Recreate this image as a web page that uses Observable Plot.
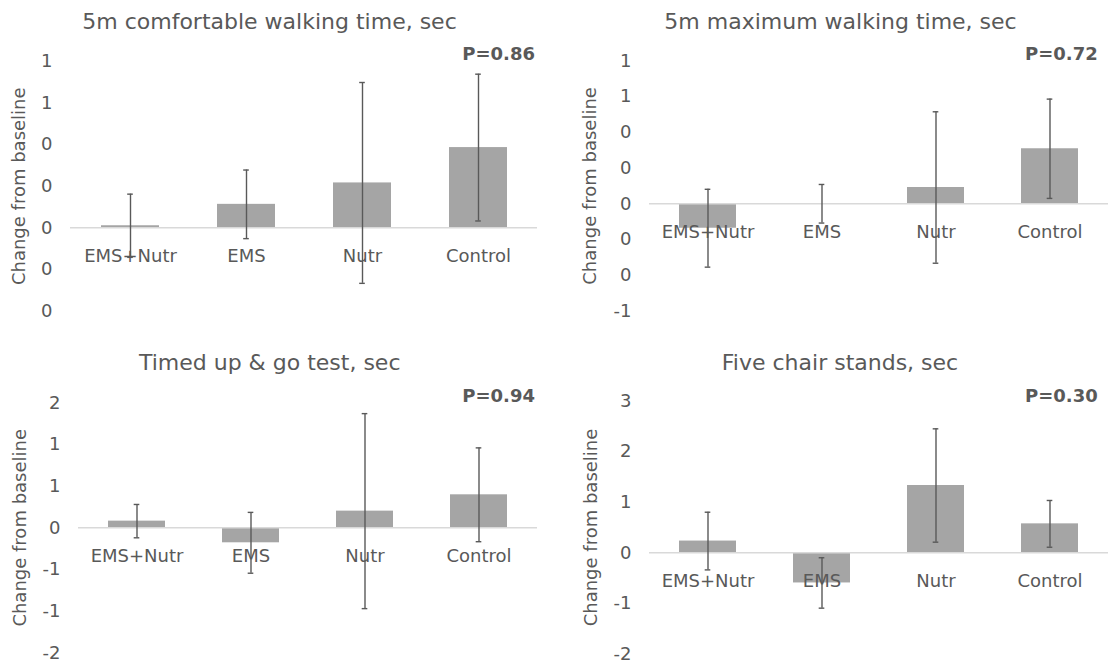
<!DOCTYPE html>
<html>
<head>
<meta charset="utf-8">
<script src="https://cdn.jsdelivr.net/npm/d3@7"></script>
<script src="https://cdn.jsdelivr.net/npm/@observablehq/plot@0.6"></script>
<style>
  html, body { margin: 0; padding: 0; background: #ffffff; }
  #chart { position: relative; width: 1112px; height: 667px; background: #ffffff; overflow: hidden;
           font-family: "DejaVu Sans", sans-serif; color: #595959; }
  #chart svg { position: absolute; }
  .ttl { position: absolute; font-size: 22px; line-height: 22px; white-space: nowrap; transform: translateX(-50%); color: #595959; }
  .pv { position: absolute; font-size: 18px; line-height: 18px; font-weight: bold; white-space: nowrap; color: #595959; }
</style>
</head>
<body>
<div id="chart"></div>
<script>
// ---- data ----
const categories = ["EMS+Nutr", "EMS", "Nutr", "Control"];
const yTitle = "Change from baseline";

const titles = ["5m comfortable walking time, sec", "5m maximum walking time, sec", "Timed up & go test, sec", "Five chair stands, sec"];
const pLabels = ["P=0.86", "P=0.72", "P=0.94", "P=0.30"];

const comfValues = [0.01, 0.113, 0.216, 0.386];
const comfErrors = [0.152, 0.165, 0.483, 0.353];
const comfTicks = [0.8, 0.6, 0.4, 0.2, 0, -0.2, -0.4];
const comfTickLabels = ["1", "1", "0", "0", "0", "0", "0"];

const maxValues = [-0.137, 0.0, 0.091, 0.308];
const maxErrors = [0.218, 0.108, 0.424, 0.278];
const maxTicks = [0.8, 0.6, 0.4, 0.2, 0, -0.2, -0.4, -0.6];
const maxTickLabels = ["1", "1", "0", "0", "0", "0", "0", "-1"];

const tugValues = [0.08, -0.18, 0.2, 0.396];
const tugErrors = [0.2, 0.365, 1.17, 0.563];
const tugTicks = [1.5, 1, 0.5, 0, -0.5, -1, -1.5];
const tugTickLabels = ["2", "1", "1", "0", "-1", "-1", "-2"];

const chairValues = [0.232, -0.596, 1.33, 0.572];
const chairErrors = [0.57, 0.498, 1.12, 0.462];
const chairTicks = [3, 2, 1, 0, -1, -2];
const chairTickLabels = ["3", "2", "1", "0", "-1", "-2"];

// ---- drawing ----
const GRAY_BAR = "#a5a5a5", TEXT = "#595959", ERR = "#595959", ZERO = "#d9d9d9";
const W = 556, H = 333;

function panel(values, errors, ticks, tickLabels, m, titleX) {
  const data = categories.map((c, i) => ({cat: c, v: values[i], lo: values[i] - errors[i], hi: values[i] + errors[i]}));
  const step = (W - m.l - m.r) / categories.length;
  const bw = step * 0.5;
  const capInset = (bw - 6) / 2;
  const domain = [d3.min(ticks), d3.max(ticks)];
  return Plot.plot({
    width: W, height: H,
    marginLeft: m.l, marginRight: m.r, marginTop: m.t, marginBottom: m.b,
    style: {fontFamily: "'DejaVu Sans', sans-serif", fontSize: "18px", color: TEXT, background: "transparent", overflow: "visible"},
    x: {domain: categories, paddingInner: 0.5, paddingOuter: 0.25, axis: null},
    y: {domain, ticks, tickFormat: d => tickLabels[ticks.indexOf(d)], tickSize: 0, tickPadding: 18, label: null},
    marks: [
      Plot.barY(data, {x: "cat", y: "v", fill: GRAY_BAR}),
      Plot.ruleY([0], {stroke: ZERO, strokeWidth: 1.5}),
      Plot.text(categories, {x: d => d, y: () => 0, dy: 28, fill: TEXT, fontSize: 18}),
      Plot.ruleX(data, {x: "cat", y1: "lo", y2: "hi", stroke: ERR, strokeWidth: 1.4}),
      Plot.tickY(data, {x: "cat", y: "lo", stroke: ERR, strokeWidth: 1.4, insetLeft: capInset, insetRight: capInset}),
      Plot.tickY(data, {x: "cat", y: "hi", stroke: ERR, strokeWidth: 1.4, insetLeft: capInset, insetRight: capInset}),
      Plot.text([yTitle], {frameAnchor: "left", textAnchor: "middle", lineAnchor: "middle", rotate: -90, dx: titleX - m.l, fill: TEXT, fontSize: 18})
    ]
  });
}

const chart = document.getElementById("chart");
const specs = [
  {vals: comfValues, errs: comfErrors, ticks: comfTicks, labels: comfTickLabels, m: {l: 70, r: 19, t: 61, b: 22.5}, tx: 19, left: 0, top: 0, tcx: 269.5, ttop: 10.7, pright: 577, ptop: 45.3},
  {vals: maxValues, errs: maxErrors, ticks: maxTicks, labels: maxTickLabels, m: {l: 93, r: 4, t: 60.4, b: 22.6}, tx: 34, left: 556, top: 0, tcx: 840.5, ttop: 10.7, pright: 14.3, ptop: 45.3},
  {vals: tugValues, errs: tugErrors, ticks: tugTicks, labels: tugTickLabels, m: {l: 78, r: 19, t: 68.3, b: 14.7}, tx: 20, left: 0, top: 334, tcx: 269.7, ttop: 352, pright: 577, ptop: 386.8},
  {vals: chairValues, errs: chairErrors, ticks: chairTicks, labels: chairTickLabels, m: {l: 93, r: 4, t: 66.5, b: 13.5}, tx: 35, left: 556, top: 334, tcx: 840, ttop: 352, pright: 14.3, ptop: 386.8}
];

specs.forEach((s, i) => {
  const svg = panel(s.vals, s.errs, s.ticks, s.labels, s.m, s.tx);
  svg.style.left = s.left + "px";
  svg.style.top = s.top + "px";
  chart.appendChild(svg);
  const t = document.createElement("div");
  t.className = "ttl";
  t.textContent = titles[i];
  t.style.left = s.tcx + "px";
  t.style.top = s.ttop + "px";
  chart.appendChild(t);
  const p = document.createElement("div");
  p.className = "pv";
  p.textContent = pLabels[i];
  p.style.right = s.pright + "px";
  p.style.top = s.ptop + "px";
  chart.appendChild(p);
});
</script>
</body>
</html>
